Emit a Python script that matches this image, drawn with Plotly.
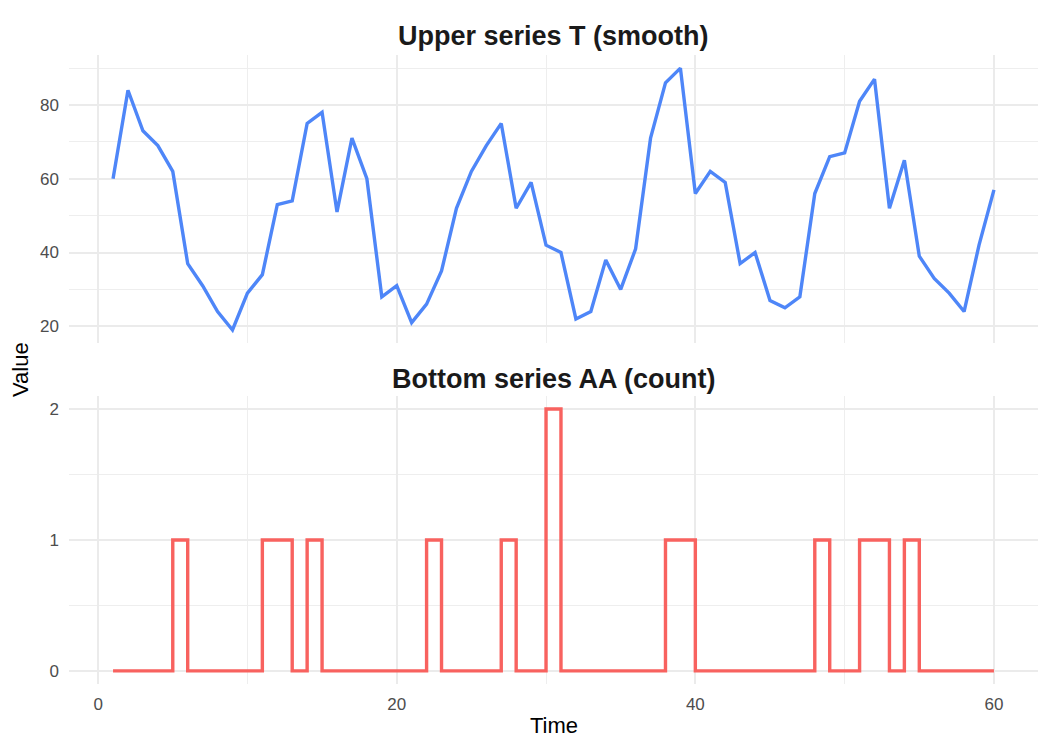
import plotly.graph_objects as go

# data
time = list(range(1, 61))
upper_t = [60, 84, 73, 69, 62, 37, 31, 24, 19, 29,
           34, 53, 54, 75, 78, 51, 71, 60, 28, 31,
           21, 26, 35, 52, 62, 69, 75, 52, 59, 42,
           40, 22, 24, 38, 30, 41, 71, 86, 90, 56,
           62, 59, 37, 40, 27, 25, 28, 56, 66, 67,
           81, 87, 52, 65, 39, 33, 29, 24, 42, 57]
bottom_aa = [0, 0, 0, 0, 1, 0, 0, 0, 0, 0,
             1, 1, 0, 1, 0, 0, 0, 0, 0, 0,
             0, 1, 0, 0, 0, 0, 1, 0, 0, 2,
             0, 0, 0, 0, 0, 0, 0, 1, 1, 0,
             0, 0, 0, 0, 0, 0, 0, 1, 0, 0,
             1, 1, 0, 1, 0, 0, 0, 0, 0, 0]

FONT = "Liberation Sans, Arial, sans-serif"
MAJOR = "#EBEBEB"
MINOR = "#EEEEEE"
TICKFONT = dict(family=FONT, size=17, color="#4D4D4D")

fig = go.Figure()
fig.add_trace(go.Scatter(x=time, y=upper_t, mode="lines",
                         line=dict(color="#4E86F8", width=3.4),
                         xaxis="x", yaxis="y", showlegend=False))
fig.add_trace(go.Scatter(x=time, y=bottom_aa, mode="lines",
                         line=dict(color="#F8625F", width=3.4, shape="hv"),
                         xaxis="x2", yaxis="y2", showlegend=False))

xcommon = dict(range=[-1.95, 62.95], dtick=20, tick0=0, showgrid=True,
               gridcolor=MAJOR, gridwidth=1.6, zeroline=False, showline=False,
               ticks="", minor=dict(dtick=10, tick0=0, showgrid=True,
                                    gridcolor=MINOR, gridwidth=1),
               tickfont=TICKFONT, ticklabelstandoff=8)

# the page body adds 8px around the figure, so the figure is 16px smaller
fig.update_layout(
    width=1034, height=734,
    paper_bgcolor="white", plot_bgcolor="white",
    margin=dict(l=61, r=4, t=47, b=58),
    font=dict(family=FONT),
    xaxis=dict(xcommon, domain=[0, 1], anchor="y", showticklabels=False),
    xaxis2=dict(xcommon, domain=[0, 1], anchor="y2", matches="x"),
    yaxis=dict(domain=[0.542, 1], anchor="x", range=[15.45, 93.55],
               dtick=20, tick0=0, showgrid=True, gridcolor=MAJOR, gridwidth=1.6,
               zeroline=False, ticks="",
               minor=dict(dtick=10, tick0=0, showgrid=True, gridcolor=MINOR, gridwidth=1),
               tickfont=TICKFONT, ticklabelstandoff=9),
    yaxis2=dict(domain=[0, 0.458], anchor="x2", range=[-0.1, 2.1],
                dtick=1, tick0=0, showgrid=True, gridcolor=MAJOR, gridwidth=1.6,
                zeroline=False, ticks="",
                minor=dict(dtick=0.5, tick0=0, showgrid=True, gridcolor=MINOR, gridwidth=1),
                tickfont=TICKFONT, ticklabelstandoff=9),
)

# text placed at the pixel rows of the reference (relative to the plot area)
H = 629
W = 969
labels = [
    ("<b>Upper series T (smooth)</b>", 0.5, (684 - 36) / H, 0, 27, "#1A1A1A"),
    ("<b>Bottom series AA (count)</b>", 0.5, (684 - 379) / H, 0, 27, "#1A1A1A"),
    ("Value", (20 - 69) / W, (684 - 370) / H, -90, 22, "black"),
    ("Time", 0.5, (684 - 725) / H, 0, 22, "black"),
]
for text, x, y, angle, size, color in labels:
    fig.add_annotation(text=text, x=x, y=y, xref="paper", yref="paper",
                       xanchor="center", yanchor="middle", textangle=angle,
                       showarrow=False, font=dict(family=FONT, size=size, color=color))

fig.write_html("out.html")
